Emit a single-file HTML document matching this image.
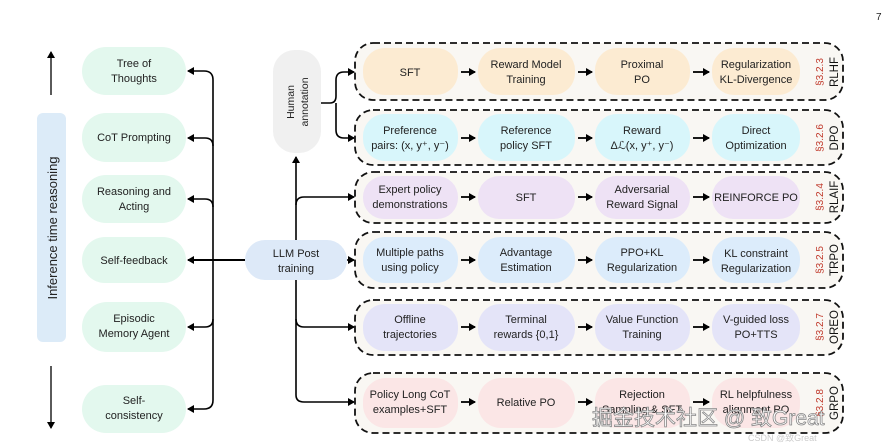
<!DOCTYPE html>
<html><head><meta charset="utf-8"><style>
html,body{margin:0;padding:0;background:#fff;}
svg{display:block;font-family:"Liberation Sans",sans-serif;}
</style></head><body>
<svg width="896" height="447" viewBox="0 0 896 447" xmlns="http://www.w3.org/2000/svg">
<defs>
<marker id="a" markerWidth="8" markerHeight="8" refX="6" refY="4" orient="auto" markerUnits="userSpaceOnUse"><path d="M0,0 L7,4 L0,8 z" fill="#000"/></marker>
</defs>
<text x="876" y="20" font-size="10" fill="#222">7</text>
<rect x="37" y="113" width="29" height="229" rx="6" fill="#dcebf8"/>
<text transform="translate(57,228) rotate(-90)" text-anchor="middle" font-size="13" fill="#222">Inference time reasoning</text>
<line x1="51" y1="95" x2="51" y2="52" stroke="#000" stroke-width="1.3" marker-end="url(#a)"/>
<line x1="51" y1="366" x2="51" y2="428" stroke="#000" stroke-width="1.3" marker-end="url(#a)"/>
<g fill="#e3f8ee">
<rect x="82" y="47" width="104" height="48" rx="24"/>
<rect x="82" y="113" width="104" height="49" rx="24"/>
<rect x="82" y="175" width="104" height="48" rx="24"/>
<rect x="82" y="237" width="104" height="46" rx="23"/>
<rect x="82" y="302" width="104" height="50" rx="25"/>
<rect x="82" y="385" width="104" height="48" rx="24"/>
</g>
<g font-size="11" fill="#222" text-anchor="middle">
<text x="134" y="67">Tree of</text><text x="134" y="82">Thoughts</text>
<text x="134" y="141">CoT Prompting</text>
<text x="134" y="195">Reasoning and</text><text x="134" y="210">Acting</text>
<text x="134" y="264">Self-feedback</text>
<text x="134" y="322">Episodic</text><text x="134" y="337">Memory Agent</text>
<text x="134" y="404">Self-</text><text x="134" y="419">consistency</text>
</g>
<g fill="none" stroke="#000" stroke-width="1.6">
<path d="M213,80 Q213,71 204,71 L188,71" marker-end="url(#a)"/>
<path d="M213,80 L213,400 Q213,409 204,409 L188,409" marker-end="url(#a)"/>
<path d="M213,146 Q213,138 205,138 L188,138" marker-end="url(#a)"/>
<path d="M213,207 Q213,199 205,199 L188,199" marker-end="url(#a)"/>
<path d="M213,319 Q213,327 205,327 L188,327" marker-end="url(#a)"/>
<line x1="245" y1="260" x2="188" y2="260" marker-end="url(#a)" stroke-width="2"/>
</g>
<rect x="245" y="240" width="102" height="40" rx="20" fill="#dde9f8"/>
<text x="296" y="257" font-size="11" text-anchor="middle" fill="#222">LLM Post</text>
<text x="296" y="272" font-size="11" text-anchor="middle" fill="#222">training</text>
<rect x="273" y="50" width="48" height="103" rx="22" fill="#f0f0f0"/>
<text transform="translate(294,102) rotate(-90)" font-size="10.5" text-anchor="middle" fill="#222">Human</text>
<text transform="translate(308,102) rotate(-90)" font-size="10.5" text-anchor="middle" fill="#222">annotation</text>
<g fill="none" stroke="#000" stroke-width="1.6">
<line x1="296" y1="240" x2="296" y2="157" marker-end="url(#a)"/>
<path d="M296,280 L296,395 Q296,402 304,402 L354,402" marker-end="url(#a)"/>
<path d="M296,205 Q296,197 304,197 L354,197" marker-end="url(#a)"/>
<path d="M296,319 Q296,327 304,327 L354,327" marker-end="url(#a)"/>
<line x1="347" y1="260" x2="354" y2="260" marker-end="url(#a)"/>
<path d="M321,103 L330,103 Q336,103 336,96 L336,80 Q336,72 344,72 L354,72" marker-end="url(#a)"/>
<path d="M336,103 L336,130 Q336,138 344,138 L354,138" marker-end="url(#a)"/>
</g>
<g fill="#f9f7f3" stroke="#111" stroke-width="1.8" stroke-dasharray="7,4">
<rect x="355" y="43" width="488" height="57" rx="18"/>
<rect x="355" y="110" width="488" height="55" rx="18"/>
<rect x="355" y="172" width="488" height="51" rx="18"/>
<rect x="355" y="232" width="488" height="56" rx="18"/>
<rect x="355" y="300" width="488" height="55" rx="18"/>
<rect x="355" y="373" width="488" height="60" rx="18"/>
</g>
<g>
<g fill="#fcebd2"><rect x="363" y="48" width="95" height="47" rx="22"/><rect x="478" y="48" width="97" height="47" rx="22"/><rect x="595" y="48" width="95" height="47" rx="22"/><rect x="712" y="48" width="88" height="47" rx="22"/></g>
<g fill="#d8f6fb"><rect x="363" y="114" width="95" height="47" rx="22"/><rect x="478" y="114" width="97" height="47" rx="22"/><rect x="595" y="114" width="95" height="47" rx="22"/><rect x="712" y="114" width="88" height="47" rx="22"/></g>
<g fill="#eee2f5"><rect x="363" y="176" width="95" height="43" rx="21"/><rect x="478" y="176" width="97" height="43" rx="21"/><rect x="595" y="176" width="95" height="43" rx="21"/><rect x="712" y="176" width="88" height="43" rx="21"/></g>
<g fill="#dcecfb"><rect x="363" y="237" width="95" height="46" rx="22"/><rect x="478" y="237" width="97" height="46" rx="22"/><rect x="595" y="237" width="95" height="46" rx="22"/><rect x="712" y="237" width="88" height="46" rx="22"/></g>
<g fill="#e4e4f8"><rect x="363" y="304" width="95" height="47" rx="22"/><rect x="478" y="304" width="97" height="47" rx="22"/><rect x="595" y="304" width="95" height="47" rx="22"/><rect x="712" y="304" width="88" height="47" rx="22"/></g>
<g fill="#fbe6e6"><rect x="363" y="378" width="95" height="50" rx="23"/><rect x="478" y="378" width="97" height="50" rx="23"/><rect x="595" y="378" width="95" height="50" rx="23"/><rect x="712" y="378" width="88" height="50" rx="23"/></g>
</g>
<g stroke="#000" stroke-width="1.8">
<line x1="461" y1="72" x2="475" y2="72" marker-end="url(#a)"/><line x1="578" y1="72" x2="592" y2="72" marker-end="url(#a)"/><line x1="693" y1="72" x2="709" y2="72" marker-end="url(#a)"/>
<line x1="461" y1="138" x2="475" y2="138" marker-end="url(#a)"/><line x1="578" y1="138" x2="592" y2="138" marker-end="url(#a)"/><line x1="693" y1="138" x2="709" y2="138" marker-end="url(#a)"/>
<line x1="461" y1="197" x2="475" y2="197" marker-end="url(#a)"/><line x1="578" y1="197" x2="592" y2="197" marker-end="url(#a)"/><line x1="693" y1="197" x2="709" y2="197" marker-end="url(#a)"/>
<line x1="461" y1="260" x2="475" y2="260" marker-end="url(#a)"/><line x1="578" y1="260" x2="592" y2="260" marker-end="url(#a)"/><line x1="693" y1="260" x2="709" y2="260" marker-end="url(#a)"/>
<line x1="461" y1="327" x2="475" y2="327" marker-end="url(#a)"/><line x1="578" y1="327" x2="592" y2="327" marker-end="url(#a)"/><line x1="693" y1="327" x2="709" y2="327" marker-end="url(#a)"/>
<line x1="461" y1="402" x2="475" y2="402" marker-end="url(#a)"/><line x1="578" y1="402" x2="592" y2="402" marker-end="url(#a)"/><line x1="693" y1="402" x2="709" y2="402" marker-end="url(#a)"/>
</g>
<g font-size="11" fill="#222" text-anchor="middle">
<text x="410" y="76">SFT</text>
<text x="526" y="68">Reward Model</text><text x="526" y="83">Training</text>
<text x="642" y="68">Proximal</text><text x="642" y="83">PO</text>
<text x="756" y="68">Regularization</text><text x="756" y="83">KL-Divergence</text>
<text x="410" y="134">Preference</text><text x="410" y="149">pairs: (x, y⁺, y⁻)</text>
<text x="526" y="134">Reference</text><text x="526" y="149">policy SFT</text>
<text x="642" y="134">Reward</text><text x="642" y="149">Δℒ(x, y⁺, y⁻)</text>
<text x="756" y="134">Direct</text><text x="756" y="149">Optimization</text>
<text x="410" y="193">Expert policy</text><text x="410" y="208">demonstrations</text>
<text x="526" y="201">SFT</text>
<text x="642" y="193">Adversarial</text><text x="642" y="208">Reward Signal</text>
<text x="756" y="201">REINFORCE PO</text>
<text x="410" y="256">Multiple paths</text><text x="410" y="271">using policy</text>
<text x="526" y="256">Advantage</text><text x="526" y="271">Estimation</text>
<text x="642" y="256">PPO+KL</text><text x="642" y="271">Regularization</text>
<text x="756" y="257">KL constraint</text><text x="756" y="272">Regularization</text>
<text x="410" y="323">Offline</text><text x="410" y="338">trajectories</text>
<text x="526" y="323">Terminal</text><text x="526" y="338">rewards {0,1}</text>
<text x="642" y="323">Value Function</text><text x="642" y="338">Training</text>
<text x="756" y="323">V-guided loss</text><text x="756" y="338">PO+TTS</text>
<text x="410" y="398">Policy Long CoT</text><text x="410" y="413">examples+SFT</text>
<text x="526" y="406">Relative PO</text>
<text x="642" y="398">Rejection</text><text x="642" y="413">Sampling &amp; SFT</text>
<text x="756" y="398">RL helpfulness</text><text x="756" y="413">alignment PO</text>
</g>
<g font-size="10" text-anchor="middle">
<g fill="#c0392b">
<text transform="translate(823,72) rotate(-90)">§3.2.3</text>
<text transform="translate(823,138) rotate(-90)">§3.2.6</text>
<text transform="translate(823,197) rotate(-90)">§3.2.4</text>
<text transform="translate(823,260) rotate(-90)">§3.2.5</text>
<text transform="translate(823,327) rotate(-90)">§3.2.7</text>
<text transform="translate(823,403) rotate(-90)">§3.2.8</text>
</g>
<g fill="#111" font-size="11.5">
<text transform="translate(838,72) rotate(-90)">RLHF</text>
<text transform="translate(838,138) rotate(-90)">DPO</text>
<text transform="translate(838,197) rotate(-90)">RLAIF</text>
<text transform="translate(838,260) rotate(-90)">TRPO</text>
<text transform="translate(838,327) rotate(-90)">OREO</text>
<text transform="translate(838,403) rotate(-90)">GRPO</text>
</g>
</g>
<text x="592" y="425" font-size="21" fill="#fff" stroke="#888" stroke-width="0.8" font-family="'Liberation Sans','Noto Sans CJK SC',sans-serif">掘金技术社区 @ 致Great</text>
<text x="748" y="441" font-size="9" fill="#ccc">CSDN @致Great</text>
</svg>
</body></html>
